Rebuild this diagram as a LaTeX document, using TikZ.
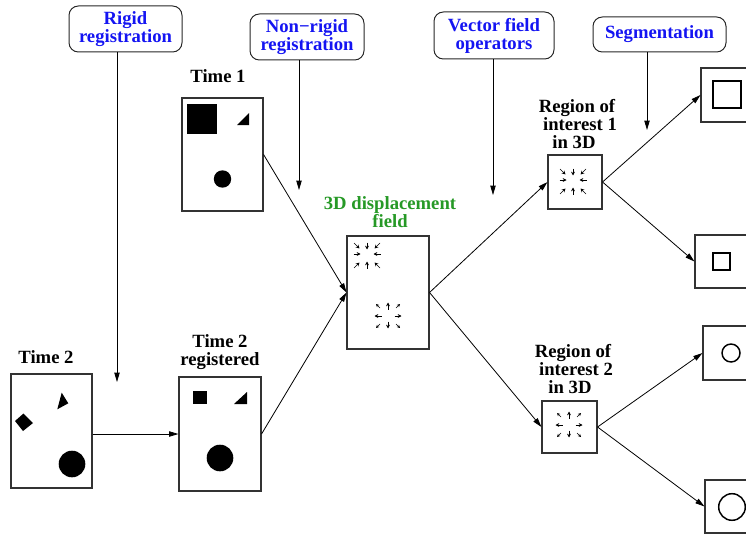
\documentclass[tikz,border=0pt]{standalone}
\usepackage{fontspec}
\setmainfont{Liberation Serif}
\usetikzlibrary{arrows.meta}
\definecolor{lblblue}{rgb}{0.08,0.08,0.95}
\definecolor{lblgreen}{rgb}{0.15,0.6,0.15}
\tikzset{
  lbl/.style={font=\fontsize{14pt}{13.5pt}\selectfont\bfseries, inner sep=0pt},
  opbox/.style={draw=black!85, line width=0.75pt, rounded corners=7pt, inner sep=0pt,
     font=\fontsize{14pt}{13.5pt}\selectfont\bfseries, text=lblblue, align=center},
  imgbox/.style={draw=black!80, line width=0.8pt, inner sep=0pt},
  arr/.style={line width=0.6pt, -{Triangle[length=7pt,width=4pt]}},
  va/.style={line width=0.5pt, -{Stealth[length=2.8pt,width=2.8pt]}},
  vs/.style={line width=0.5pt, -{Stealth[length=2.3pt,width=2.3pt]}},
  seg/.style={line width=1.1pt},
  convfield/.pic={
    \draw[va] (-13,-12) -- (-7.5,-6.5);
    \draw[va] (0,-12.5) -- (0,-5.5);
    \draw[va] (13,-12) -- (7.5,-6.5);
    \draw[va] (-13.5,-1) -- (-6.5,-1);
    \draw[va] (13.5,-1) -- (6.5,-1);
    \draw[va] (-13,13) -- (-7.5,7.5);
    \draw[va] (0,13.5) -- (0,6.5);
    \draw[va] (13,13) -- (7.5,7.5);
  },
  divfield/.pic={
    \draw[vs] (-8,-8) -- (-12,-12);
    \draw[va] (0,-6.5) -- (0,-13.5);
    \draw[vs] (8,-8) -- (12,-12);
    \draw[va] (-6.5,0) -- (-13.5,0);
    \draw[va] (6.5,0) -- (13.5,0);
    \draw[vs] (-8,8) -- (-12,12);
    \draw[va] (0,5.5) -- (0,12.5);
    \draw[vs] (8,8) -- (12,12);
  }
}
\begin{document}
\begin{tikzpicture}[x=0.75pt,y=-0.75pt]
\useasboundingbox (0,0) rectangle (746,535);

% operation boxes
\node[opbox, minimum width=84.75pt, minimum height=34.5pt] (rigid) at (125.5,29) {Rigid\\registration};
\node[opbox, minimum width=85.5pt, minimum height=34.5pt] (nonrigid) at (307,37) {Non−rigid\\registration};
\node[opbox, minimum width=90pt, minimum height=35.25pt] (vector) at (494,35.5) {Vector field\\operators};
\node[opbox, minimum width=99.75pt, minimum height=26.25pt] (segm) at (659.5,34.5) {Segmentation};

\coordinate (rigidtip) at (117,382);
\coordinate (nonrigidtip) at (299,190);
\coordinate (vectortip) at (493,195);
\coordinate (segmtip) at (647,130);
\draw[arr] (rigid.south -| rigidtip) -- (rigidtip);
\draw[arr] (nonrigid.south -| nonrigidtip) -- (nonrigidtip);
\draw[arr] (vector.south -| vectortip) -- (vectortip);
\draw[arr] (segm.south -| segmtip) -- (segmtip);

% image boxes
\node[imgbox, minimum width=60.75pt, minimum height=84.75pt] (t1) at (222.5,154.5) {};
\node[imgbox, minimum width=60.75pt, minimum height=85.5pt] (t2) at (51.5,431) {};
\node[imgbox, minimum width=61.5pt, minimum height=85.5pt] (t2r) at (220,434) {};
\node[imgbox, minimum width=61.5pt, minimum height=84.75pt] (disp) at (388,292.5) {};
\node[imgbox, minimum width=40.5pt, minimum height=40.5pt] (roi1) at (575,182) {};
\node[imgbox, minimum width=41.25pt, minimum height=39pt] (roi2) at (569.5,427) {};
\node[imgbox, minimum width=40.5pt, minimum height=40.5pt] (s1) at (728,95) {};
\node[imgbox, minimum width=40.5pt, minimum height=39.75pt] (s2) at (722,261.5) {};
\node[imgbox, minimum width=42pt, minimum height=40.5pt] (s3) at (731,353) {};
\node[imgbox, minimum width=40.5pt, minimum height=39.75pt] (s4) at (732,506.5) {};

% labels (base = baseline of the last line)
\node[lbl, anchor=base] (t1lbl) at (218,82.7) {Time 1};
\node[lbl, anchor=base] (t2lbl) at (46,363) {Time 2};
\node[lbl, align=center, anchor=base] (t2rlbl) at (220,365) {Time 2\\registered};
\node[lbl, text=lblgreen, align=center, anchor=base] (displbl) at (390,227) {3D displacement\\field};
\node[lbl, align=center, anchor=base] (roi1lbl) at (577,148) {Region of\\\hspace*{4.5pt}interest 1\\in 3D\hspace*{4.5pt}};
\node[lbl, align=center, anchor=base] (roi2lbl) at (573,393) {Region of\\\hspace*{4.5pt}interest 2\\in 3D\hspace*{4.5pt}};

% contents: time 1
\fill (187,104) rectangle (217,134);
\fill (237,125) -- (249,125) -- (249,113) -- cycle;
\fill (222.5,179) circle[radius=8.7];
% time 2
\fill (15,421) -- (23.5,413.5) -- (33,423) -- (23,431) -- cycle;
\fill (61.7,392.7) -- (68.3,403.3) -- (57.3,409.3) -- cycle;
\fill (72,464) circle[radius=13.3];
% time 2 registered
\fill (193,391) rectangle (207,404);
\fill (234,404) -- (247,404) -- (247,392) -- cycle;
\fill (220,458) circle[radius=13.3];
% vector fields
\pic at (367,255) {convfield};
\pic at (388,316) {divfield};
\pic at (573,181) {convfield};
\pic at (569,425) {divfield};
% segmentation results
\draw[seg] (713,81) rectangle (741,108);
\draw[seg] (713,253) rectangle (730,270);
\draw[seg] (731,353) circle[radius=9];
\draw[seg] (732,507) circle[radius=13.3];

% connectors
\draw[arr] (t2.east |- t2r.west) -- (t2r.west);
\draw[arr] (t1.east) -- (disp.west);
\draw[arr] (t2r.east) -- (disp.west);
\draw[arr] (disp.east) -- (roi1.west);
\draw[arr] (disp.east) -- (roi2.west);
\draw[arr] (roi1.east) -- (s1.west);
\draw[arr] (roi1.east) -- (s2.west);
\draw[arr] (roi2.east) -- (s3.west);
\draw[arr] (roi2.east) -- (s4.west);
\end{tikzpicture}
\end{document}
